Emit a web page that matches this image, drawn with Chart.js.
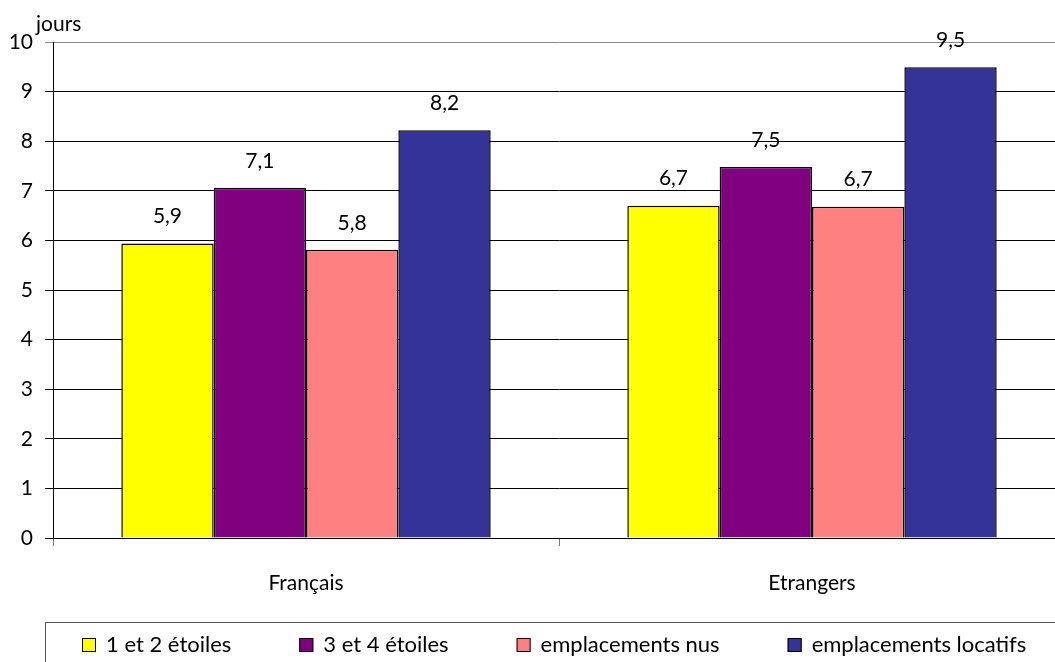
<!DOCTYPE html>
<html>
<head>
<meta charset="utf-8">
<script src="https://cdn.jsdelivr.net/npm/chart.js@4/dist/chart.umd.min.js"></script>
<style>
html,body{margin:0;padding:0;background:#fff;overflow:hidden;}
#wrap{width:1055px;height:662px;position:relative;overflow:hidden;}
canvas{display:block;}
</style>
</head>
<body>
<div id="wrap"><canvas id="c" width="1070" height="662"></canvas></div>
<script>
const categories = ["Français", "Etrangers"];
const seriesNames = ["1 et 2 étoiles", "3 et 4 étoiles", "emplacements nus", "emplacements locatifs"];
const unetdeux = [5.94, 6.70];
const troisetquatre = [7.06, 7.48];
const emplacementsNus = [5.81, 6.68];
const emplacementsLocatifs = [8.22, 9.49];
const yTicks = [0,1,2,3,4,5,6,7,8,9,10];
const colors = ["#FFFF00", "#800080", "#FF8080", "#333399"];
const seriesValues = [unetdeux, troisetquatre, emplacementsNus, emplacementsLocatifs];

const FONT = "Lato, 'Open Sans', sans-serif";

const fmt = v => v.toFixed(1).replace('.', ',');

const extras = {
  id: 'extras',
  afterDatasetsDraw(chart) {
    const ctx = chart.ctx;
    ctx.save();
    ctx.fillStyle = '#000';
    ctx.font = "21px " + FONT;
    ctx.textAlign = 'center';
    ctx.textBaseline = 'middle';
    chart.data.datasets.forEach((ds, i) => {
      chart.getDatasetMeta(i).data.forEach((bar, j) => {
        ctx.fillText(fmt(ds.data[j]), bar.x, bar.y - 27);
      });
    });
    // unit label
    ctx.textAlign = 'left';
    ctx.textBaseline = 'alphabetic';
    ctx.font = "21px " + FONT;
    ctx.fillText("jours", 36, 31);
    // legend
    ctx.strokeStyle = '#555';
    ctx.lineWidth = 1;
    ctx.strokeRect(45.5, 622.5, 1100, 100);
    ctx.font = "22px " + FONT;
    ctx.textBaseline = 'middle';
    let x = 82;
    const y = 645;
    chart.data.datasets.forEach((ds) => {
      ctx.fillStyle = ds.backgroundColor;
      ctx.fillRect(x, y - 7, 14, 14);
      ctx.strokeStyle = '#000';
      ctx.strokeRect(x + 0.5, y - 6.5, 13, 13);
      ctx.fillStyle = '#000';
      ctx.fillText(ds.label, x + 24, y);
      x += 24 + ctx.measureText(ds.label).width + 68;
    });
    ctx.restore();
  }
};

new Chart(document.getElementById('c'), {
  type: 'bar',
  data: {
    labels: categories,
    datasets: seriesNames.map((n, i) => ({
      label: n,
      data: seriesValues[i],
      backgroundColor: colors[i],
      borderColor: '#000',
      borderWidth: 1.5,
      categoryPercentage: 0.73,
      barPercentage: 1.0
    }))
  },
  options: {
    responsive: false,
    animation: false,
    layout: { padding: { top: 42, right: 5, left: 0, bottom: 0 } },
    plugins: { legend: { display: false }, tooltip: { enabled: false } },
    scales: {
      x: {
        afterFit(scale) { scale.height = 124; },
        grid: { display: true, drawOnChartArea: false, offset: true, tickLength: 8, color: '#777', lineWidth: 1 },
        border: { display: true, color: '#000', width: 1 },
        ticks: { color: '#000', font: { family: FONT, size: 21 }, padding: 25 }
      },
      y: {
        min: 0, max: 10,
        afterFit(scale) { scale.width = 53; },
        afterBuildTicks(scale) { scale.ticks = yTicks.map(v => ({ value: v })); },
        grid: {
          color: c => (c.tick && c.tick.value === 10) ? '#888' : '#000',
          lineWidth: 1,
          tickLength: 8
        },
        border: { display: true, color: '#000', width: 1 },
        ticks: { color: '#000', font: { family: FONT, size: 21 }, padding: 12, stepSize: 1 }
      }
    }
  },
  plugins: [extras]
});
</script>
</body>
</html>
